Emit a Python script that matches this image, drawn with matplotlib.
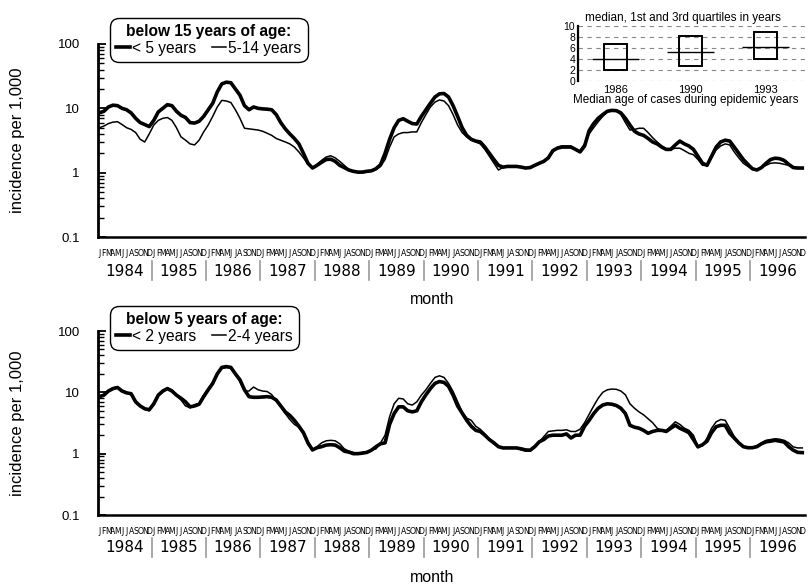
import matplotlib
matplotlib.use("Agg")
import matplotlib.pyplot as plt
import matplotlib.transforms as mtransforms
from matplotlib.lines import Line2D
import numpy as np

plt.rcParams['font.family'] = ['Liberation Sans', 'DejaVu Sans']
NARROW = ['Liberation Sans Narrow', 'DejaVu Sans']

years = list(range(1984, 1997))
month_letters = list("JFMAMJJASOND")

# top panel: below 15 years of age
under5 = [
    8.5, 9.0, 10.5, 11.2, 11.0, 10.0, 9.5, 8.5, 7.0, 6.0, 5.6, 5.2,
    6.5, 8.8, 10.0, 11.4, 11.0, 9.0, 7.8, 7.2, 6.0, 5.9, 6.3, 7.5,
    9.5, 12.0, 18.0, 24.0, 25.5, 25.0, 20.0, 16.0, 11.0, 9.5, 10.5, 10.0,
    9.8, 9.7, 9.5, 8.0, 6.0, 4.8, 4.0, 3.4, 2.8, 2.0, 1.4, 1.18,
    1.3, 1.45, 1.6, 1.62, 1.5, 1.3, 1.2, 1.1, 1.05, 1.02, 1.02, 1.05,
    1.07, 1.15, 1.33, 2.0, 3.3, 5.0, 6.5, 6.9, 6.3, 5.8, 5.7, 7.5,
    9.5, 12.0, 15.0, 16.8, 17.0, 15.0, 11.0, 7.5, 5.0, 3.8, 3.3, 3.1,
    3.0, 2.5, 2.0, 1.6, 1.3, 1.22, 1.25, 1.25, 1.25, 1.22, 1.18, 1.2,
    1.3, 1.4, 1.5, 1.7, 2.2, 2.4, 2.5, 2.5, 2.5, 2.3, 2.1, 2.6,
    4.5, 5.8, 7.0, 8.0, 9.0, 9.3, 9.2, 8.5, 7.0, 5.5, 4.4, 4.0,
    3.8, 3.4, 3.0, 2.8, 2.5, 2.3, 2.3, 2.7, 3.1, 2.8, 2.6, 2.3,
    1.8, 1.4, 1.3, 1.8, 2.5, 3.0, 3.2, 3.1, 2.5, 2.0, 1.6, 1.35,
    1.15, 1.1, 1.2, 1.4, 1.6, 1.68, 1.65, 1.55, 1.35, 1.2, 1.18, 1.18,
]
age5_14 = [
    5.0, 5.3, 5.8, 6.1, 6.2, 5.6, 5.0, 4.7, 4.2, 3.3, 3.0, 4.0,
    5.5, 6.5, 7.0, 7.2, 6.5, 5.0, 3.6, 3.2, 2.8, 2.7, 3.2, 4.3,
    5.5, 7.5, 10.5, 13.3, 13.0, 12.3, 9.5, 7.0, 4.9, 4.8, 4.7, 4.6,
    4.4, 4.1, 3.8, 3.4, 3.2, 3.0, 2.8, 2.5, 2.1, 1.7, 1.35, 1.18,
    1.35, 1.55, 1.75, 1.83, 1.7, 1.5, 1.3, 1.12, 1.05, 1.0, 1.0, 1.02,
    1.05, 1.12, 1.25, 1.6, 2.5, 3.6, 4.0, 4.2, 4.2, 4.3, 4.3, 6.0,
    8.0, 10.5, 12.5, 13.5, 13.0, 11.0, 8.0, 5.5, 4.2, 3.6, 3.2, 3.0,
    2.8, 2.3, 1.8, 1.4, 1.1, 1.2, 1.25, 1.25, 1.25, 1.22, 1.18, 1.2,
    1.3, 1.4, 1.5, 1.7, 2.1, 2.5, 2.6, 2.6, 2.6, 2.3, 2.2, 2.8,
    4.0, 5.0, 6.2, 7.5, 8.8, 9.3, 9.2, 8.0, 6.0, 4.6, 4.7, 4.9,
    4.9, 4.2, 3.5, 3.0, 2.6, 2.3, 2.3, 2.4, 2.4, 2.2, 2.0, 1.9,
    1.6, 1.3, 1.3, 1.7, 2.26, 2.6, 2.8, 2.7, 2.1, 1.7, 1.4, 1.25,
    1.12, 1.1, 1.2, 1.3, 1.4, 1.42, 1.4, 1.35, 1.3, 1.22, 1.2, 1.18,
]

# bottom panel: below 5 years of age
under2 = [
    8.5, 9.0, 10.5, 11.5, 12.0, 10.5, 9.8, 9.5, 7.0, 6.0, 5.4, 5.2,
    6.5, 9.0, 10.5, 11.5, 10.5, 9.0, 8.0, 7.0, 5.8, 6.0, 6.4, 8.5,
    11.0, 14.0, 20.0, 25.5, 26.3, 25.5, 20.0, 16.0, 11.0, 8.5, 8.3, 8.3,
    8.4, 8.5, 8.3, 7.5, 6.0, 4.8, 4.2, 3.5, 2.8, 2.2, 1.5, 1.15,
    1.25, 1.3, 1.38, 1.4, 1.38, 1.25, 1.1, 1.06, 1.0, 1.0, 1.02, 1.05,
    1.14, 1.3, 1.45, 1.5, 3.0, 4.5, 5.8, 5.8, 5.0, 4.8, 5.0, 7.0,
    9.1, 11.5, 14.0, 15.0, 14.5, 12.5, 9.0, 6.0, 4.6, 3.5, 2.8, 2.4,
    2.3, 2.0, 1.7, 1.5, 1.3, 1.24, 1.24, 1.24, 1.24, 1.2, 1.15, 1.14,
    1.3, 1.56, 1.7, 1.94, 2.0, 2.0, 2.0, 2.1, 1.8, 2.0, 2.0, 2.8,
    3.5, 4.5, 5.5, 6.2, 6.5, 6.4, 6.1, 5.5, 4.5, 2.9, 2.7, 2.6,
    2.4, 2.15, 2.3, 2.4, 2.4, 2.3, 2.6, 2.9, 2.6, 2.4, 2.2, 1.7,
    1.29, 1.4, 1.6, 2.2, 2.75, 2.9, 2.9, 2.15, 1.8, 1.5, 1.3, 1.25,
    1.25, 1.3, 1.45, 1.56, 1.6, 1.65, 1.6, 1.55, 1.3, 1.14, 1.05, 1.04,
]
age2_4 = [
    8.3, 9.2, 10.8, 11.8, 12.2, 10.8, 10.0, 9.2, 7.2, 6.0, 5.3, 5.0,
    6.8, 9.3, 10.8, 11.8, 11.0, 8.8, 7.5, 6.0, 5.6, 6.3, 6.6, 9.0,
    11.5, 14.5, 20.0, 24.5, 25.5, 25.0, 20.0, 15.0, 10.5, 10.5, 12.2, 11.0,
    10.5, 10.3, 9.2, 7.2, 5.8, 4.5, 3.6, 3.0, 2.7, 2.1, 1.4, 1.14,
    1.3, 1.5, 1.62, 1.65, 1.62, 1.45, 1.2, 1.1, 1.05, 1.0, 1.05, 1.08,
    1.14, 1.2, 1.5, 2.0, 4.0, 6.5, 8.0, 7.8, 6.5, 6.2, 7.0, 9.0,
    11.0, 14.0, 17.5, 18.6, 17.5, 14.0, 10.3, 7.0, 4.8, 3.8, 3.5, 2.8,
    2.5, 2.1, 1.7, 1.45, 1.29, 1.24, 1.24, 1.24, 1.24, 1.15, 1.1, 1.1,
    1.3, 1.56, 1.9, 2.3, 2.35, 2.4, 2.4, 2.45, 2.3, 2.3, 2.5, 3.2,
    4.4, 6.0, 8.0, 10.0, 11.0, 11.3, 11.2, 10.5, 9.1, 6.5, 5.5, 4.8,
    4.3, 3.7, 3.2, 2.6, 2.4, 2.4, 2.8, 3.3, 3.0, 2.6, 2.4, 2.0,
    1.3, 1.35, 1.8, 2.6, 3.3, 3.6, 3.5, 2.6, 1.9, 1.5, 1.3, 1.27,
    1.27, 1.35, 1.5, 1.65, 1.7, 1.75, 1.72, 1.65, 1.5, 1.29, 1.24, 1.24,
]

# inset: median age of cases during epidemic years
epi_years = ["1986", "1990", "1993"]
q1_age = [2.0, 2.7, 4.0]
median_age = [4.0, 5.3, 6.2]
q3_age = [6.7, 8.1, 8.9]

W, H = 809, 588
fig = plt.figure(figsize=(W / 100, H / 100), dpi=100)


def fx(px):
    return px / W


def fy(py):
    return 1 - py / H


def make_panel(top_px, bot_px, s_thick, s_thin, title, lab_thick, lab_thin,
               leg_top_px, month_y, year_y, month_label_y):
    ax = fig.add_axes([fx(98), fy(bot_px), fx(805) - fx(98), fy(top_px) - fy(bot_px)])
    x = np.arange(len(s_thick))
    ax.plot(x, s_thin, color='black', lw=1.1, solid_joinstyle='round')
    ax.plot(x, s_thick, color='black', lw=2.6, solid_joinstyle='round')
    ax.set_yscale('log')
    ax.set_ylim(0.1, 100)
    ax.set_xlim(-0.3, 155.6)
    for s in ['top', 'right']:
        ax.spines[s].set_visible(False)
    ax.spines['left'].set_linewidth(2.0)
    ax.spines['bottom'].set_linewidth(1.8)
    ax.set_yticks([0.1, 1, 10, 100])
    ax.set_yticklabels(['0.1', '1', '10', '100'], fontsize=9.5)
    ax.tick_params(axis='y', which='major', direction='in', length=6, width=1.3, pad=13)
    ax.tick_params(axis='y', which='minor', direction='in', length=4, width=1.0)
    ax.set_xticks([])
    trans = mtransforms.blended_transform_factory(ax.transData, fig.transFigure)
    # month letters
    for i in x:
        ax.text(i, fy(month_y), month_letters[i % 12], transform=trans,
                ha='center', va='center', fontsize=5.6, family=NARROW,
                clip_on=False)
    # year labels and separators
    for k, yr in enumerate(years):
        ax.text(k * 12 + 5.5, fy(year_y), str(yr), transform=trans,
                ha='center', va='center', fontsize=11, family=NARROW,
                clip_on=False)
    for k in range(1, len(years)):
        ax.add_line(Line2D([k * 12 - 0.5, k * 12 - 0.5],
                           [fy(year_y - 10), fy(year_y + 9)], transform=trans,
                           color='#999999', lw=1.2, clip_on=False))
    fig.text(fx(432), fy(month_label_y), 'month', ha='center', va='center',
             fontsize=11.5)
    fig.text(fx(18), fy((top_px + bot_px) / 2), 'incidence per 1,000',
             rotation=90, ha='center', va='center', fontsize=12)
    h1 = Line2D([], [], color='black', lw=2.6)
    h2 = Line2D([], [], color='black', lw=1.1)
    leg = ax.legend([h1, h2], [lab_thick, lab_thin], ncol=2, loc='upper left',
                    bbox_to_anchor=(fx(113), fy(leg_top_px)),
                    bbox_transform=fig.transFigure,
                    title=title, title_fontproperties={'weight': 'bold', 'size': 11.2},
                    fontsize=11.2, handlelength=0.9, handletextpad=0.15,
                    columnspacing=1.0, borderpad=0.2, borderaxespad=0,
                    labelspacing=0.1, fancybox=True, framealpha=1,
                    edgecolor='black')
    leg.get_frame().set_linewidth(1.0)
    leg.get_frame().set_boxstyle('round', pad=0.2, rounding_size=0.6)
    return ax


make_panel(44, 237, under5, age5_14, 'below 15 years of age:', '< 5 years',
           '5-14 years', 21, 253, 271, 300)
make_panel(331, 515, under2, age2_4, 'below 5 years of age:', '< 2 years',
           '2-4 years', 309, 531, 548, 578)

# inset
iax = fig.add_axes([fx(578), fy(81), fx(805) - fx(578), fy(26) - fy(81)])
pos = np.arange(1, len(epi_years) + 1)
iax.set_xlim(0.5, 3.53)
iax.set_ylim(0, 10)
for yv in [0, 2, 4, 6, 8, 10]:
    iax.axhline(yv, color='#888888', lw=0.8, ls=(0, (4, 4)), zorder=0)
iax.bar(pos, np.array(q3_age) - np.array(q1_age), bottom=q1_age, width=0.31,
        fill=False, edgecolor='black', lw=1.4, zorder=3)
iax.hlines(median_age, pos - 0.31, pos + 0.31, color='black', lw=1.0, zorder=4)
for s in ['top', 'right', 'bottom']:
    iax.spines[s].set_visible(False)
iax.spines['left'].set_linewidth(1.6)
iax.set_yticks([0, 2, 4, 6, 8, 10])
iax.set_yticklabels(['0', '2', '4', '6', '8', '10'], fontsize=7.5)
iax.tick_params(axis='y', length=0, pad=2)
iax.set_xticks(pos)
iax.set_xticklabels(epi_years, fontsize=8)
iax.tick_params(axis='x', length=0, pad=3)
fig.text(fx(686), fy(100), 'Median age of cases during epidemic years',
         ha='center', va='center', fontsize=8.4)
fig.text(fx(683), fy(18), 'median, 1st and 3rd quartiles in years',
         ha='center', va='center', fontsize=8.5)

fig.savefig('out.png', dpi=100)
